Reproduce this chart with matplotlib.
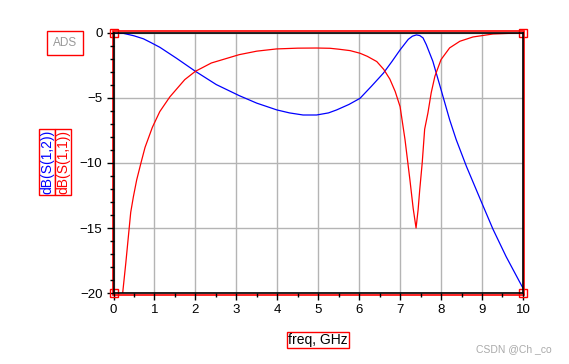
import numpy as np
import matplotlib
matplotlib.use('Agg')
import matplotlib.pyplot as plt
from matplotlib.patches import Rectangle
from matplotlib.ticker import MultipleLocator

plt.rcParams['font.family'] = ['Liberation Sans', 'DejaVu Sans']

# Datos (dB frente a frecuencia en GHz)
freq_s12 = [0, 0.24, 0.5, 0.73, 0.9, 1.13, 1.54, 2.0, 2.51, 3.07, 3.5, 3.99, 4.3, 4.63,
            4.96, 5.25, 5.45, 5.75, 6.02, 6.3, 6.59, 6.8, 7.0, 7.2, 7.3, 7.4, 7.48,
            7.56, 7.64, 7.8, 8.0, 8.21, 8.37, 8.62, 9.0, 9.27, 9.59, 9.98, 10]
s12_db = [0, -0.03, -0.22, -0.45, -0.72, -1.1, -1.95, -2.95, -3.97, -4.82, -5.4,
          -5.92, -6.15, -6.31, -6.31, -6.15, -5.92, -5.5, -5.03, -4.1, -3.1, -2.2,
          -1.3, -0.49, -0.25, -0.15, -0.2, -0.38, -0.9, -2.18, -4.36, -6.67, -8.2,
          -10.26, -13.1, -15.1, -17.2, -19.5, -19.6]

freq_s11 = [0, 0.1, 0.227, 0.30, 0.38, 0.42, 0.485, 0.566, 0.67, 0.77, 0.95, 1.13,
            1.375, 1.74, 2.0, 2.39, 3.07, 3.5, 3.98, 4.5, 4.96, 5.29, 5.5, 5.78,
            6.02, 6.2, 6.43, 6.6, 6.75, 6.88, 7.0, 7.12, 7.24, 7.32, 7.39, 7.44,
            7.48, 7.54, 7.60, 7.68, 7.76, 7.85, 8.0, 8.21, 8.46, 8.78, 9.27, 9.92, 10]
s11_db = [-40, -28, -19.9, -17.7, -15.1, -13.8, -12.6, -11.3, -10.0, -8.8, -7.25,
          -6.05, -4.92, -3.59, -2.95, -2.31, -1.67, -1.4, -1.23, -1.17, -1.16,
          -1.18, -1.25, -1.36, -1.56, -1.8, -2.2, -2.8, -3.55, -4.5, -5.67, -8.2,
          -11.3, -13.5, -15.0, -13.6, -12.05, -10.0, -7.4, -6.15, -4.6, -3.33,
          -2.05, -1.15, -0.64, -0.31, -0.08, 0, 0]

x_ticks = np.arange(0, 11, 1)
y_ticks = [0, -5, -10, -15, -20]

fig = plt.figure(figsize=(5.69, 3.64), dpi=100)
ax = fig.add_axes([0.1995, 0.195, 0.7195, 0.7145])

ax.plot(freq_s12, s12_db, color='blue', lw=0.9)
ax.plot(freq_s11, s11_db, color='red', lw=0.9)

ax.set_xlim(0, 10)
ax.set_ylim(-20, 0)
ax.set_xticks(x_ticks)
ax.set_yticks(y_ticks)
ax.xaxis.set_minor_locator(MultipleLocator(0.5))
ax.yaxis.set_minor_locator(MultipleLocator(1))
ax.grid(True, which='major', color='#b4b4b4', lw=1)
ax.tick_params(which='major', direction='out', length=5, width=1, labelsize=9.5, pad=3)
ax.tick_params(which='minor', direction='out', length=3, width=1)
for s in ax.spines.values():
    s.set_color('black')
    s.set_linewidth(1.2)

# Marco rojo alrededor del área del gráfico
ax.add_patch(Rectangle((-0.002, -0.006), 1.004, 1.014, transform=ax.transAxes,
                       fill=False, edgecolor='red', lw=1.2, clip_on=False))
ax.plot([0, 1, 0, 1], [0, 0, 1, 1], 's', transform=ax.transAxes, ms=6,
        mfc='none', mec='red', mew=1, clip_on=False)

# Etiqueta ADS
fig.text(65 / 569, 1 - 43 / 364, 'ADS', color='#999999', fontsize=8.5,
         ha='center', va='center',
         bbox=dict(boxstyle='square,pad=0.5', fc='white', ec='red', lw=1))

# Etiquetas del eje y
fig.text(47 / 569, 1 - 162 / 364, 'dB(S(1,2))', color='blue', fontsize=10,
         rotation=90, ha='center', va='center',
         bbox=dict(boxstyle='square,pad=0.05', fc='white', ec='red', lw=1))
fig.text(63 / 569, 1 - 162 / 364, 'dB(S(1,1))', color='red', fontsize=10,
         rotation=90, ha='center', va='center',
         bbox=dict(boxstyle='square,pad=0.05', fc='white', ec='red', lw=1))

# Etiqueta del eje x
fig.text(318 / 569, 1 - 340 / 364, 'freq, GHz', color='black', fontsize=10,
         ha='center', va='center',
         bbox=dict(boxstyle='square,pad=0.1', fc='white', ec='red', lw=1))

fig.text(514 / 569, 1 - 349 / 364, 'CSDN @Ch _co', color='#aaaaaa', fontsize=7.5,
         ha='center', va='center')

fig.savefig('out.png', dpi=100)
